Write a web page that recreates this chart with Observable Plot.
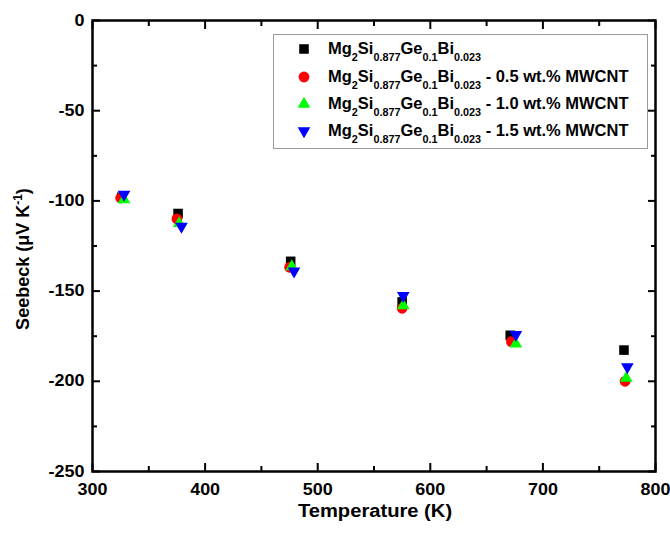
<!DOCTYPE html>
<html>
<head>
<meta charset="utf-8">
<script src="https://cdn.jsdelivr.net/npm/d3@7"></script>
<script src="https://cdn.jsdelivr.net/npm/@observablehq/plot@0.6"></script>
<style>
  body { margin: 0; background: #fff; }
  #chart { position: relative; width: 670px; height: 535px; font-family: "Liberation Sans", Arial, sans-serif; font-weight: bold; color: #000; }
  #legend { position: absolute; left: 273px; top: 34px; width: 375px; height: 115px; box-sizing: border-box; border: 1px solid #9a9a9a; background: #fff; }
  #legend .sym { position: absolute; width: 16px; height: 16px; }
  #legend .txt { position: absolute; left: 54px; font-size: 16px; line-height: 16px; white-space: nowrap; transform: scaleX(1.03); transform-origin: 0 0; }
  #legend sub { font-size: 10.5px; line-height: 0; vertical-align: -7px; }
</style>
</head>
<body>
<div id="chart"></div>
<script>
// Seebeck coefficient vs temperature, four compositions
const suffixes = ["", " - 0.5 wt.% MWCNT", " - 1.0 wt.% MWCNT", " - 1.5 wt.% MWCNT"];
const colors = ["#000000", "#ff0000", "#00ff00", "#0000ff"];
const xTitle = "Temperature (K)";
const yTitle = "Seebeck (μV K-1)";

const tempBase = [326, 376, 476, 575, 671, 772];
const seebeckBase = [-98, -107, -133.5, -156, -174.5, -182.7];
const temp05 = [325, 375, 475, 575, 672, 773];
const seebeck05 = [-98.4, -110, -136.8, -159.5, -178, -200];
const temp10 = [328, 377, 477, 576, 676, 774];
const seebeck10 = [-99.3, -112.5, -136.4, -158, -179.3, -198.2];
const temp15 = [328, 379, 479, 576, 676, 775];
const seebeck15 = [-96.4, -114.2, -139, -152.5, -174.2, -192];

const xMajor = [300, 400, 500, 600, 700, 800];
const xMinor = [350, 450, 550, 650, 750];
const yMajor = [0, -50, -100, -150, -200, -250];
const yMinor = [-25, -75, -125, -175, -225];

const toRows = (ts, ss) => ts.map((t, i) => ({T: t, S: ss[i]}));
const series = [
  toRows(tempBase, seebeckBase),
  toRows(temp05, seebeck05),
  toRows(temp10, seebeck10),
  toRows(temp15, seebeck15)
];

// downward-pointing triangle, same proportions as d3.symbolTriangle
const triangleDown = {
  draw(ctx, size) {
    const y = Math.sqrt(size / (Math.sqrt(3) * 3));
    ctx.moveTo(0, 2 * y);
    ctx.lineTo(Math.sqrt(3) * y, -y);
    ctx.lineTo(-Math.sqrt(3) * y, -y);
    ctx.closePath();
  }
};
const symbols = ["square", "circle", "triangle", triangleDown];
const radii = [5.4, 5.4, 4.7, 4.7];

const tickStyle = {stroke: "black", strokeWidth: 2, text: null, label: null};

const chart = Plot.plot({
  width: 670,
  height: 535,
  marginLeft: 92,
  marginRight: 15,
  marginTop: 20,
  marginBottom: 64,
  x: {domain: [300, 800]},
  y: {domain: [-250, 0]},
  style: {fontFamily: "'Liberation Sans', Arial, sans-serif", fontWeight: "bold", fontSize: "16px", color: "black", background: "white"},
  marks: [
    // inward major / minor ticks on all four sides
    Plot.axisX({...tickStyle, anchor: "bottom", ticks: xMajor, tickSize: 8, dy: -8}),
    Plot.axisX({...tickStyle, anchor: "bottom", ticks: xMinor, tickSize: 5, dy: -5}),
    Plot.axisX({...tickStyle, anchor: "top", ticks: xMajor, tickSize: 8, dy: 8}),
    Plot.axisX({...tickStyle, anchor: "top", ticks: xMinor, tickSize: 5, dy: 5}),
    Plot.axisY({...tickStyle, anchor: "left", ticks: yMajor, tickSize: 8, dx: 8}),
    Plot.axisY({...tickStyle, anchor: "left", ticks: yMinor, tickSize: 5, dx: 5}),
    Plot.axisY({...tickStyle, anchor: "right", ticks: yMajor, tickSize: 8, dx: -8}),
    Plot.axisY({...tickStyle, anchor: "right", ticks: yMinor, tickSize: 5, dx: -5}),
    // tick labels
    Plot.axisX({anchor: "bottom", ticks: xMajor, tickSize: 0, tickPadding: 12, tickFormat: d => String(d), label: null}),
    Plot.axisY({anchor: "left", ticks: yMajor, tickSize: 0, tickPadding: 8, tickFormat: d => String(d), label: null}),
    Plot.frame({stroke: "black", strokeWidth: 2.5}),
    ...series.map((rows, i) => Plot.dot(rows, {x: "T", y: "S", symbol: symbols[i], r: radii[i], fill: colors[i], stroke: "none"})),
    Plot.text([xTitle], {frameAnchor: "bottom", textAnchor: "middle", dy: 45, dx: 1, fontSize: 18}),
    Plot.text([yTitle], {frameAnchor: "left", textAnchor: "middle", rotate: -90, dx: -69, dy: 13, fontSize: 18})
  ]
});

const root = document.getElementById("chart");
root.appendChild(chart);

const allText = Array.from(chart.querySelectorAll("text"));

// slightly wider lettering for the axis text (tick labels and x title)
allText.filter(t => /^-?\d+$/.test(t.textContent) || t.textContent === xTitle).forEach(t => {
  const w = t.getComputedTextLength();
  t.setAttribute("textLength", (w * 1.12).toFixed(1));
  t.setAttribute("lengthAdjust", "spacingAndGlyphs");
});

// superscript exponent in the y title
allText.filter(t => t.textContent === yTitle).forEach(t => {
  while (t.firstChild) t.removeChild(t.firstChild);
  const parts = [["Seebeck (μV K", 0, null], ["-1", -7, "12"], [")", 7, null]];
  for (const [str, dy, size] of parts) {
    const span = document.createElementNS("http://www.w3.org/2000/svg", "tspan");
    span.textContent = str;
    if (dy) span.setAttribute("dy", dy);
    if (size) span.setAttribute("font-size", size);
    t.appendChild(span);
  }
});

// legend box inside the plot area
const legend = document.createElement("div");
legend.id = "legend";
root.appendChild(legend);
const rowCenters = [14, 42, 68.5, 96];
const symbolGen = d3.symbol();
const symbolTypes = {square: d3.symbolSquare, circle: d3.symbolCircle, triangle: d3.symbolTriangle};
series.forEach((_, i) => {
  const cy = rowCenters[i];
  const area = Math.PI * radii[i] * radii[i];
  const s = d3.create("svg").attr("class", "sym").attr("width", 16).attr("height", 16)
    .style("left", `${29.5 - 8}px`).style("top", `${cy - 8}px`);
  s.append("path").attr("transform", "translate(8,8)").attr("fill", colors[i])
    .attr("d", symbolGen.type(typeof symbols[i] === "string" ? symbolTypes[symbols[i]] : symbols[i]).size(area)());
  legend.appendChild(s.node());
  const txt = document.createElement("div");
  txt.className = "txt";
  txt.style.top = `${cy + 5.7 - 13.5}px`;
  txt.innerHTML = `Mg<sub>2</sub>Si<sub>0.877</sub>Ge<sub>0.1</sub>Bi<sub>0.023</sub>${suffixes[i]}`;
  legend.appendChild(txt);
});
</script>
</body>
</html>
